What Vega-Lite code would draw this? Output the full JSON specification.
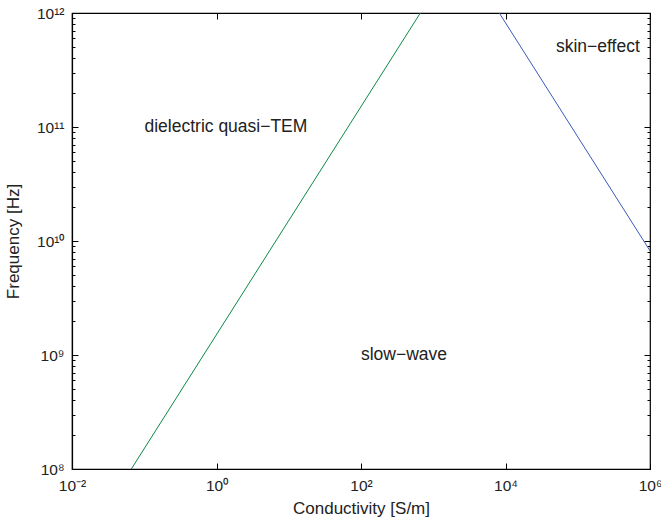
{
  "$schema": "https://vega.github.io/schema/vega-lite/v6.json",
  "width": 578,
  "height": 456,
  "autosize": {"type": "none"},
  "padding": {"left": 72, "top": 13, "right": 11, "bottom": 58},
  "background": "white",
  "config": {
    "view": {"stroke": "black", "strokeWidth": 1.2}
  },
  "datasets": {
    "lines": [
      {"sigma": 0.0662, "f": 100000000, "series": "dielectric"},
      {"sigma": 662, "f": 1000000000000, "series": "dielectric"},
      {"sigma": 8200, "f": 1000000000000, "series": "skin"},
      {"sigma": 1000000, "f": 8200000000, "series": "skin"}
    ],
    "labels": [
      {"sigma": 1.35, "f": 100000000000, "label": "dielectric quasi−TEM"},
      {"sigma": 190000, "f": 500000000000, "label": "skin−effect"},
      {"sigma": 394, "f": 1000000000, "label": "slow−wave"}
    ]
  },
  "encoding": {
    "x": {
      "field": "sigma", "type": "quantitative",
      "scale": {"type": "log", "domain": [0.01, 1000000], "nice": false},
      "axis": {
        "title": "Conductivity [S/m]",
        "titlePadding": 7,
        "titleFont": "Liberation Sans",
        "titleFontSize": 17,
        "titleFontWeight": "normal",
        "titleColor": "#222222",
        "values": [0.01, 1, 100, 10000, 1000000],
        "domainColor": "black",
        "domainWidth": 1.2,
        "ticks": false,
        "grid": true,
        "gridColor": "black",
        "gridDash": [6, 444],
        "labelFont": "Liberation Sans",
        "labelFontSize": 15.5,
        "labelColor": "#222222",
        "labelOverlap": false,
        "labelFlush": false,
        "labelBound": false,
        "labelPadding": 9,
        "labelExpr": "['10⁻²','10⁰','10²','10⁴','10⁶'][round((log(datum.value)/LN10+2)/2)]"
      }
    },
    "y": {
      "field": "f", "type": "quantitative",
      "scale": {"type": "log", "domain": [100000000, 1000000000000], "nice": false},
      "axis": {
        "title": "Frequency [Hz]",
        "titlePadding": 14,
        "titleFont": "Liberation Sans",
        "titleFontSize": 17,
        "titleFontWeight": "normal",
        "titleColor": "#222222",
        "values": [100000000, 200000000, 300000000, 400000000, 500000000, 600000000, 700000000, 800000000, 900000000,
                   1000000000, 2000000000, 3000000000, 4000000000, 5000000000, 6000000000, 7000000000, 8000000000, 9000000000,
                   10000000000, 20000000000, 30000000000, 40000000000, 50000000000, 60000000000, 70000000000, 80000000000, 90000000000,
                   100000000000, 200000000000, 300000000000, 400000000000, 500000000000, 600000000000, 700000000000, 800000000000, 900000000000,
                   1000000000000],
        "domainColor": "black",
        "domainWidth": 1.2,
        "ticks": false,
        "grid": true,
        "gridColor": "black",
        "gridDash": {"condition": {"test": "abs(log(datum.value)/LN10-round(log(datum.value)/LN10))<0.001", "value": [6, 566]}, "value": [3, 572]},
        "labelFont": "Liberation Sans",
        "labelFontSize": 15.5,
        "labelColor": "#222222",
        "labelOverlap": false,
        "labelFlush": false,
        "labelBound": false,
        "labelPadding": 8,
        "labelExpr": "abs(log(datum.value)/LN10-round(log(datum.value)/LN10))<0.001 ? ['10⁸','10⁹','10¹⁰','10¹¹','10¹²'][round(log(datum.value)/LN10)-8] : ''"
      }
    }
  },
  "layer": [
    {
      "data": {"name": "lines"},
      "mark": {"type": "line", "strokeWidth": 1, "clip": true},
      "encoding": {
        "color": {
          "field": "series", "type": "nominal",
          "scale": {"domain": ["dielectric", "skin"], "range": ["#0b8a45", "#3a58bd"]},
          "legend": null
        }
      }
    },
    {
      "data": {"name": "labels"},
      "mark": {"type": "text", "fontSize": 17.5, "font": "Liberation Sans", "color": "#222222", "align": "center", "baseline": "middle"},
      "encoding": {
        "text": {"field": "label", "type": "nominal"}
      }
    }
  ]
}
